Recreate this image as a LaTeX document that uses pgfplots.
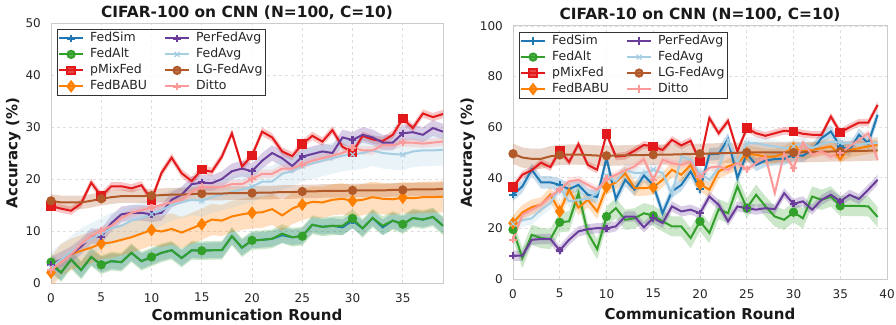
\documentclass[border=0pt]{standalone}
\usepackage{fontspec}
\setmainfont{DejaVu Sans}
\usepackage{pgfplots}
\pgfplotsset{compat=1.18}
\usepackage{pgfplotstable}
\usepgfplotslibrary{fillbetween}

\definecolor{csim}{HTML}{1F78B4}
\definecolor{calt}{HTML}{33A02C}
\definecolor{cmix}{HTML}{E31A1C}
\definecolor{cbabu}{HTML}{FF7F00}
\definecolor{cper}{HTML}{6A3D9A}
\definecolor{cavg}{HTML}{A6CEE3}
\definecolor{clg}{HTML}{B15928}
\definecolor{cdit}{HTML}{FB9A99}

% r sim alt mix babu per avg lg dit
\pgfplotstableread{
r sim alt mix babu per avg lg dit
0 3.5 4.0 14.8 2.0 3.5 3.0 15.8 2.5
1 2.0 2.0 14.3 4.5 4.5 4.5 15.5 4.0
2 4.5 4.5 13.9 5.5 5.5 6.0 15.5 5.5
3 2.5 2.5 15.3 6.2 7.0 7.5 15.5 7.5
4 5.0 5.0 19.3 6.8 9.0 8.5 15.8 9.0
5 3.5 3.5 16.7 7.6 8.9 9.5 16.2 10.0
6 4.2 4.2 18.6 7.8 11.5 10.5 16.5 11.0
7 4.0 4.0 18.6 8.3 13.2 11.0 16.7 12.5
8 5.8 5.8 18.2 8.8 13.5 12.0 16.7 13.5
9 4.2 4.2 18.8 9.5 13.5 12.5 16.7 14.0
10 5.0 5.0 16.0 10.2 13.2 13.2 16.8 14.5
11 5.8 5.8 21.2 9.9 13.5 14.0 16.9 15.0
12 6.3 6.3 24.1 10.4 16.0 15.0 17.0 15.5
13 4.8 4.8 21.1 9.7 17.0 15.5 17.0 16.0
14 6.3 6.3 19.6 10.5 19.0 16.0 17.1 17.5
15 6.2 6.2 21.8 11.3 19.3 15.8 17.2 18.5
16 6.3 6.3 21.4 12.2 19.2 16.5 17.2 18.5
17 6.3 6.3 24.3 12.0 20.0 17.0 17.2 18.5
18 9.0 9.0 28.8 12.8 21.5 17.5 17.3 19.0
19 6.8 6.8 22.4 13.2 22.0 18.0 17.3 19.0
20 8.2 8.2 24.5 13.5 21.5 18.5 17.3 20.0
21 8.3 8.3 29.1 13.6 23.5 19.5 17.4 21.0
22 8.5 8.5 28.0 14.2 25.0 19.5 17.4 21.0
23 9.2 9.5 25.3 13.0 24.0 21.0 17.5 22.0
24 8.8 8.8 24.4 14.3 22.5 21.5 17.5 22.0
25 9.0 9.0 26.7 15.1 24.3 22.5 17.6 22.8
26 11.2 11.2 28.3 15.6 24.8 23.0 17.6 23.5
27 10.8 10.8 27.2 15.5 25.3 23.5 17.7 24.0
28 11.0 11.0 29.4 16.0 25.0 24.0 17.7 24.5
29 10.7 11.0 26.2 16.2 28.0 24.5 17.7 25.0
30 12.0 12.4 25.1 15.8 27.5 24.7 17.8 26.0
31 10.5 10.5 28.3 16.0 28.5 25.0 17.8 25.5
32 12.5 12.5 27.6 16.5 28.0 25.5 17.8 25.5
33 10.7 11.0 27.3 16.2 27.0 25.0 17.8 26.5
34 12.0 12.0 28.5 16.1 27.0 24.8 17.9 26.5
35 11.3 11.3 31.6 16.4 28.8 24.7 17.9 27.0
36 12.5 12.5 29.8 16.3 29.0 25.3 18.0 27.0
37 12.2 12.2 32.6 16.5 28.5 25.5 18.0 26.8
38 12.7 12.7 31.9 16.5 29.8 25.5 18.0 27.0
39 11.0 11.0 32.5 16.6 29.1 25.6 18.1 27.2
}\cifarhundred

\pgfplotstableread{
r sim alt mix babu per avg lg dit
0 33.3 19.5 36.3 22.1 9.2 21.8 49.5 15.5
1 36.6 8.3 41.2 26.3 9.2 23.2 48.0 25.4
2 43.2 17.5 43.0 28.4 15.5 24.0 47.5 27.4
3 38.2 16.2 46.0 29.3 15.8 27.4 47.5 29.3
4 38.2 15.8 44.2 33.3 15.8 30.0 48.5 32.6
5 37.2 22.4 50.8 26.7 11.3 35.9 49.0 35.3
6 35.5 22.8 46.2 35.3 15.5 30.7 49.2 38.6
7 37.2 33.9 53.3 28.2 18.8 31.3 49.2 39.2
8 33.3 18.2 45.1 31.3 19.7 31.7 49.0 37.2
9 32.4 11.8 43.2 26.7 20.1 34.0 48.8 35.3
10 47.8 24.7 57.4 36.3 20.0 40.8 48.7 39.6
11 31.6 28.0 48.4 38.2 20.8 38.6 48.8 41.2
12 39.2 23.4 48.7 41.8 24.7 43.2 48.9 42.9
13 35.3 24.0 50.7 35.9 24.7 41.9 49.0 44.5
14 40.9 26.0 53.0 35.9 20.4 41.9 49.0 47.4
15 37.2 25.0 52.4 36.3 24.1 43.2 49.1 39.2
16 26.0 22.8 51.0 39.2 22.1 41.9 49.2 47.1
17 34.6 20.8 55.0 43.2 28.7 33.3 49.2 45.8
18 37.2 20.8 52.8 41.2 26.7 48.4 49.3 45.1
19 42.5 16.2 54.6 45.1 27.4 47.1 49.4 46.4
20 35.5 22.8 46.4 37.5 26.0 41.9 49.5 40.5
21 49.3 18.2 63.6 35.3 32.6 39.2 49.6 44.0
22 49.5 27.6 57.6 42.5 29.3 43.8 49.7 44.5
23 55.3 26.0 62.5 44.5 22.8 55.0 49.8 43.2
24 39.9 36.6 50.4 45.8 28.7 45.8 49.9 45.8
25 49.5 28.0 59.6 49.7 28.0 53.7 50.0 43.4
26 45.1 33.3 57.6 49.1 27.4 53.7 50.0 45.8
27 46.8 28.7 56.6 48.4 28.0 53.0 50.0 48.4
28 47.4 24.7 57.6 48.4 27.6 52.4 50.0 33.9
29 47.5 23.4 58.6 49.7 33.9 51.7 50.0 49.7
30 49.1 26.4 58.3 51.7 29.7 52.4 50.0 43.8
31 48.7 24.0 57.4 50.4 30.7 53.7 50.1 53.9
32 51.0 32.6 57.0 51.0 27.4 51.7 50.2 49.1
33 55.7 31.3 57.0 51.7 31.3 53.4 50.3 50.4
34 58.3 32.6 64.2 52.4 33.3 54.3 50.4 48.4
35 52.4 28.9 57.9 49.1 30.7 53.9 50.4 49.7
36 51.0 28.9 60.0 51.0 33.3 53.7 50.5 52.4
37 57.0 28.9 61.8 51.7 31.6 53.0 50.6 55.0
38 53.7 28.7 61.8 52.4 35.3 53.7 50.7 57.6
39 64.9 24.5 68.8 53.0 39.2 53.7 50.8 47.1
}\cifarten

% table, column, std, colour, marker style
\newcommand{\series}[5]{%
  \addplot[name path=U#2, draw=none, forget plot] table[x=r, y expr=\thisrow{#2}+#3] {#1};
  \addplot[name path=L#2, draw=none, forget plot] table[x=r, y expr=\thisrow{#2}-#3] {#1};
  \addplot[fill=#4, fill opacity=0.25, draw=none, forget plot] fill between[of=U#2 and L#2];
  \addplot[#4, line width=2pt, mark repeat=5, mark phase=1, #5, forget plot] table[x=r, y=#2] {#1};
}

\pgfplotsset{
  mP/.style={mark=+, mark size=3.6pt, mark options={line width=2.4pt, solid}},
  mO/.style={mark=*, mark size=3.6pt},
  mS/.style={mark=square*, mark size=3.8pt},
  mD/.style={mark=diamond*, mark size=4.8pt},
  mX/.style={mark=x, mark size=3.5pt, mark options={line width=1.2pt}},
  base/.style={
    scale only axis, xmin=0, ymin=0,
    axis line style={draw=black!20, line width=1pt},
    grid=major, major grid style={black!13, dashed, line width=0.7pt},
    major tick length=0pt,
    tick label style={font=\fontsize{12}{14}\selectfont, text=black!85, inner sep=0pt},
    /pgf/number format/assume math mode=true,
    xticklabel shift=10pt, yticklabel shift=10pt,
    every axis title shift=0pt,
    title style={anchor=base, font=\fontsize{15.4}{18}\selectfont\bfseries, text=black!90},
    xlabel style={anchor=base, font=\fontsize{15}{17}\selectfont\bfseries, text=black!90},
    ylabel style={anchor=base, font=\fontsize{15}{17}\selectfont\bfseries, text=black!90},
    xlabel={Communication Round}, ylabel={Accuracy (\%)},
    legend columns=2, legend cell align=left,
    legend image code/.code={\draw[mark repeat=2, mark phase=2, ##1] plot coordinates {(0pt,0pt) (12pt,0pt) (24pt,0pt)};},
    legend style={anchor=north west, draw=black!80, line width=0.8pt, fill=white, fill opacity=0.8, text opacity=1,
      font=\fontsize{12.5}{14}\selectfont, text=black!85, inner sep=1pt, column sep=4pt,
      nodes={inner sep=2pt, text height=9.2pt, text depth=2.8pt},
      /tikz/every even column/.append style={column sep=15pt}},
  },
}

\newcommand{\legendall}{%
  \addlegendimage{csim, line width=2pt, mP}\addlegendentry{FedSim}
  \addlegendimage{cper, line width=2pt, mP}\addlegendentry{PerFedAvg}
  \addlegendimage{calt, line width=2pt, mO}\addlegendentry{FedAlt}
  \addlegendimage{cavg, line width=2pt, mX}\addlegendentry{FedAvg}
  \addlegendimage{cmix, line width=2pt, mS}\addlegendentry{pMixFed}
  \addlegendimage{clg, line width=2pt, mO}\addlegendentry{LG-FedAvg}
  \addlegendimage{cbabu, line width=2pt, mD}\addlegendentry{FedBABU}
  \addlegendimage{cdit, line width=2pt, mP}\addlegendentry{Ditto}
}

\begin{document}
\begin{tikzpicture}
\begin{axis}[base, at={(51pt,41pt)}, anchor=south west, width=392pt, height=260pt,
  xmax=39, ymax=50, xtick={0,5,...,35}, ytick={0,10,...,50},
  title={CIFAR-100 on CNN (N=100, C=10)}, title style={at={(0.5,1.022)}},
  xlabel style={at={(0.5,-0.145)}}, ylabel style={at={(-0.086,0.5)}},
  legend style={at={(0.0145,0.977)}}]
  \series{\cifarhundred}{sim}{1.5}{csim}{mP}
  \series{\cifarhundred}{alt}{1.8}{calt}{mO}
  \series{\cifarhundred}{mix}{0.8}{cmix}{mS}
  \series{\cifarhundred}{babu}{3}{cbabu}{mD}
  \series{\cifarhundred}{per}{1.5}{cper}{mP}
  \series{\cifarhundred}{avg}{3}{cavg}{mX}
  \series{\cifarhundred}{lg}{1.3}{clg}{mO}
  \series{\cifarhundred}{dit}{0.8}{cdit}{mP}
  \legendall
\end{axis}

\begin{axis}[base, at={(513pt,45pt)}, anchor=south west, width=374pt, height=253pt,
  xmax=40, ymax=100, xtick={0,5,...,40}, ytick={0,20,...,100},
  title={CIFAR-10 on CNN (N=100, C=10)}, title style={at={(0.5,1.026)}},
  xlabel style={at={(0.5,-0.159)}}, ylabel style={at={(-0.110,0.5)}},
  legend style={at={(0.0152,0.9775)}}]
  \series{\cifarten}{sim}{2.5}{csim}{mP}
  \series{\cifarten}{alt}{4}{calt}{mO}
  \series{\cifarten}{mix}{1.5}{cmix}{mS}
  \series{\cifarten}{babu}{3}{cbabu}{mD}
  \series{\cifarten}{per}{2}{cper}{mP}
  \series{\cifarten}{avg}{2.5}{cavg}{mX}
  \series{\cifarten}{lg}{4}{clg}{mO}
  \series{\cifarten}{dit}{1.5}{cdit}{mP}
  \legendall
\end{axis}
\pgfresetboundingbox
\path[use as bounding box] (0,0) rectangle (896pt,324pt);
\end{tikzpicture}
\end{document}
